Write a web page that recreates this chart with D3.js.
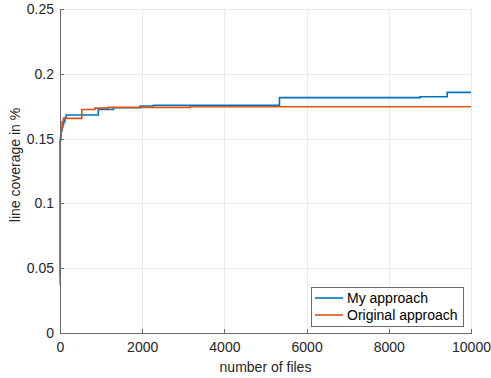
<!DOCTYPE html>
<html lang="en">
<head>
<meta charset="utf-8">
<script src="https://d3js.org/d3.v7.min.js"></script>
<style type="text/css">
body {
	margin: 0;
	background-color: #ffffff;
	font-family: "Liberation Sans", Arial, sans-serif;
}
.axis text {
	font: 14px "Liberation Sans", Arial, sans-serif;
	fill: #262626;
}
.axis path, .axis line {
	stroke: #6b6b6b;
	shape-rendering: crispEdges;
}
.grid line {
	stroke: #ebebeb;
	shape-rendering: crispEdges;
}
</style>
</head>
<body>
<script type="text/javascript">

var width = 491;
var height = 378;

// series data: [number of files, line coverage]
var myApproach = [
  [0, 0.037], [5, 0.148], [15, 0.152], [30, 0.156], [50, 0.159], [70, 0.161],
  [90, 0.163], [120, 0.166], [150, 0.1682], [930, 0.1725], [1300, 0.1738],
  [1950, 0.1752], [2270, 0.1757], [5340, 0.1816], [8760, 0.1823],
  [9420, 0.1857], [10000, 0.1857]
];
var originalApproach = [
  [0, 0.043], [5, 0.150], [25, 0.157], [50, 0.163], [80, 0.1656],
  [530, 0.1725], [850, 0.1735], [1170, 0.1741], [3170, 0.1746], [10000, 0.1746]
];

var seriesNames = ["My approach", "Original approach"];
var seriesColors = ["#0072BD", "#D95319"];

var xTicks = [0, 2000, 4000, 6000, 8000, 10000];
var yTicks = [0, 0.05, 0.1, 0.15, 0.2, 0.25];

var margin = {top: 9, right: 20, bottom: 45, left: 60};
var w = width - margin.left - margin.right,
    h = height - margin.top - margin.bottom;

var svg = d3.select("body")
  .append("svg")
  .attr("width", width)
  .attr("height", height);

var g = svg.append("g")
  .attr("transform", "translate(" + margin.left + "," + margin.top + ")");

var x = d3.scaleLinear().domain([0, 10000]).range([0, w]);
var y = d3.scaleLinear().domain([0, 0.25]).range([h, 0]);

// grid lines
g.append("g")
  .attr("class", "grid")
  .selectAll("line.gx")
  .data(xTicks.slice(1))
  .enter().append("line")
  .attr("x1", function(d) { return Math.round(x(d)) + 0.5; })
  .attr("x2", function(d) { return Math.round(x(d)) + 0.5; })
  .attr("y1", 0)
  .attr("y2", h);

g.select(".grid")
  .selectAll("line.gy")
  .data(yTicks.slice(1))
  .enter().append("line")
  .attr("class", "gy")
  .attr("x1", 0)
  .attr("x2", w)
  .attr("y1", function(d) { return Math.round(y(d)) + 0.5; })
  .attr("y2", function(d) { return Math.round(y(d)) + 0.5; });

// lines
var line = d3.line()
  .x(function(d) { return x(d[0]); })
  .y(function(d) { return y(d[1]); })
  .curve(d3.curveStepAfter);

[myApproach, originalApproach].forEach(function(data, i) {
  g.append("path")
    .datum(data)
    .attr("fill", "none")
    .attr("stroke", seriesColors[i])
    .attr("stroke-width", 1.6)
    .attr("d", line);
});

// axes (ticks drawn inside, like MATLAB)
var xAxis = d3.axisBottom(x)
  .tickValues(xTicks)
  .tickFormat(d3.format("d"))
  .tickSizeInner(-4)
  .tickSizeOuter(0)
  .tickPadding(9);

var yAxis = d3.axisLeft(y)
  .tickValues(yTicks)
  .tickFormat(function(d) { return d === 0 ? "0" : String(+d.toFixed(2)); })
  .tickSizeInner(-4)
  .tickSizeOuter(0)
  .tickPadding(6);

g.append("g")
  .attr("class", "x axis")
  .attr("transform", "translate(0," + h + ")")
  .call(xAxis);

g.append("g")
  .attr("class", "y axis")
  .call(yAxis);

// axis labels
svg.append("text")
  .attr("x", margin.left + w / 2)
  .attr("y", 372)
  .attr("text-anchor", "middle")
  .style("font-size", "14px")
  .style("fill", "#262626")
  .text("number of files");

svg.append("text")
  .attr("transform", "translate(20," + 165 + ") rotate(-90)")
  .attr("text-anchor", "middle")
  .style("font-size", "14px")
  .style("fill", "#262626")
  .text("line coverage in %");

// legend
var legend = svg.append("g")
  .attr("transform", "translate(311,287)");

legend.append("rect")
  .attr("x", 0.5)
  .attr("y", 0.5)
  .attr("width", 152)
  .attr("height", 39)
  .attr("fill", "#ffffff")
  .attr("stroke", "#6b6b6b")
  .attr("stroke-width", 1);

seriesNames.forEach(function(name, i) {
  var ly = 11 + i * 17;
  legend.append("line")
    .attr("x1", 4)
    .attr("x2", 32)
    .attr("y1", ly)
    .attr("y2", ly)
    .attr("stroke", seriesColors[i])
    .attr("stroke-width", 1.6);
  legend.append("text")
    .attr("x", 36)
    .attr("y", ly + 5)
    .style("font-size", "14px")
    .style("fill", "#000")
    .text(name);
});

</script>
</body>
</html>
